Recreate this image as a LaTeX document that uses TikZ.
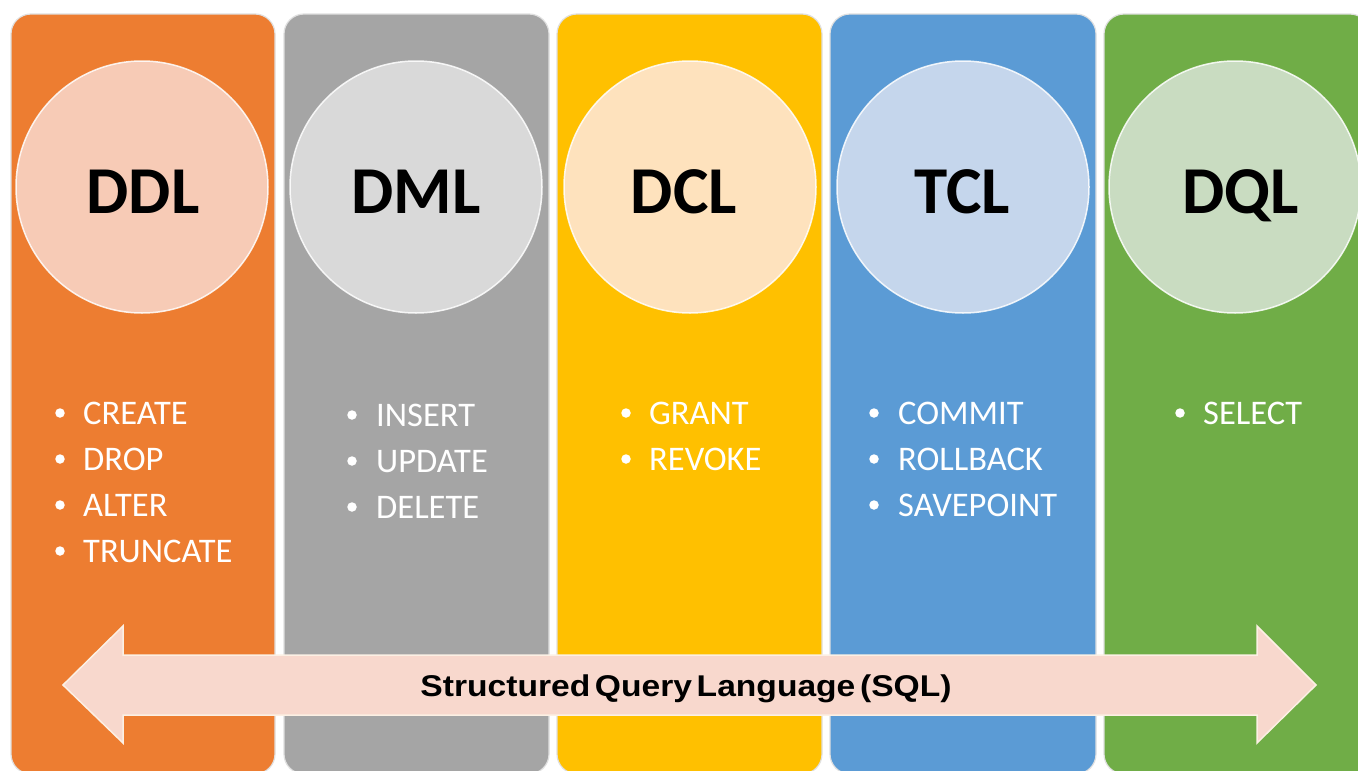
\documentclass[tikz,border=0pt]{standalone}
\usepackage{fontspec}
\setmainfont{Carlito}
\newfontfamily\sqlfont{Liberation Sans}[WordSpace=0.5]
\definecolor{corange}{HTML}{ED7D31}
\definecolor{cgrey}{HTML}{A5A5A5}
\definecolor{cyellow}{HTML}{FFC000}
\definecolor{cblue}{HTML}{5B9BD5}
\definecolor{cgreen}{HTML}{70AD47}
\definecolor{korange}{HTML}{F7CBB6}
\definecolor{kgrey}{HTML}{D9D9D9}
\definecolor{kyellow}{HTML}{FEE2BD}
\definecolor{kblue}{HTML}{C5D6EC}
\definecolor{kgreen}{HTML}{C9DCC1}
\definecolor{arrowfill}{HTML}{F8D8CD}
\definecolor{arrowline}{HTML}{FCF0E4}
\begin{document}
\begin{tikzpicture}[x=1pt,y=-1pt,
  column/.style={draw=black!12, line width=1.2pt, rounded corners=20pt},
  circ/.style={circle, draw=white, draw opacity=0.85, line width=1.5pt, minimum size=252pt, inner sep=0pt},
  lbl/.style={anchor=base, inner sep=0pt, font=\fontsize{67}{70}\selectfont\bfseries, text=black},
  item/.style={anchor=base west, inner sep=0pt, font=\fontsize{34.5}{36}\selectfont, text=white},
  dot/.style={circle, fill=white, minimum size=9.5pt, inner sep=0pt},
  arrowshape/.style={fill=arrowfill, draw=arrowline, line width=1.5pt, line join=miter}
]
\useasboundingbox (0,0) rectangle (1358,771);
\clip (0,0) rectangle (1358,771);
% columns
\fill[white] (0,0) rectangle (1358,771);
\draw[column, fill=corange] (11,14) rectangle (275,774);
\draw[column, fill=cgrey]   (284,14) rectangle (549,774);
\draw[column, fill=cyellow] (557,14) rectangle (822,774);
\draw[column, fill=cblue]   (830,14) rectangle (1096,774);
\draw[column, fill=cgreen]  (1104,14) rectangle (1370,774);
% circles
\node[circ, fill=korange] (cddl) at (142,187) {};
\node[circ, fill=kgrey]   (cdml) at (416,187) {};
\node[circ, fill=kyellow] (cdcl) at (690,187) {};
\node[circ, fill=kblue]   (ctcl) at (963,187) {};
\node[circ, fill=kgreen]  (cdql) at (1235,187) {};
\node[lbl] (lddl) at (143,213) {DDL};
\node[lbl] (ldml) at (416,213) {DML};
\node[lbl] (ldcl) at (684,213) {DCL};
\node[lbl] (ltcl) at (962,213) {TCL};
\node[lbl] (ldql) at (1241,213) {DQL};
% DDL items
\node[dot] (b11) at (60,413) {}; \node[item] (i11) at (83,424) {CREATE};
\node[dot] (b12) at (60,459) {}; \node[item] (i12) at (83,470) {DROP};
\node[dot] (b13) at (60,505) {}; \node[item] (i13) at (83,516) {ALTER};
\node[dot] (b14) at (60,551) {}; \node[item] (i14) at (83,562) {TRUNCATE};
% DML items
\node[dot] (b21) at (352,415) {}; \node[item] (i21) at (376,426) {INSERT};
\node[dot] (b22) at (352,461) {}; \node[item] (i22) at (376,472) {UPDATE};
\node[dot] (b23) at (352,507) {}; \node[item] (i23) at (376,518) {DELETE};
% DCL items
\node[dot] (b31) at (626,413) {}; \node[item] (i31) at (649,424) {GRANT};
\node[dot] (b32) at (626,459) {}; \node[item] (i32) at (649,470) {REVOKE};
% TCL items
\node[dot] (b41) at (874,413) {}; \node[item] (i41) at (898,424) {COMMIT};
\node[dot] (b42) at (874,459) {}; \node[item] (i42) at (898,470) {ROLLBACK};
\node[dot] (b43) at (874,505) {}; \node[item] (i43) at (898,516) {SAVEPOINT};
% DQL items
\node[dot] (b51) at (1180,413) {}; \node[item] (i51) at (1203,424) {SELECT};
% arrow
\draw[arrowshape] (63,685) -- (123,626) -- (123,655) -- (1257,655) -- (1257,626)
  -- (1316,685) -- (1257,743) -- (1257,715) -- (123,715) -- (123,743) -- cycle;
\node[anchor=base, inner sep=0pt, font=\sqlfont\bfseries\fontsize{30}{32}\selectfont] (sql) at (686,696)
  {\scalebox{1.12}[1]{Structured Query Language (SQL)}};
\end{tikzpicture}
\end{document}
